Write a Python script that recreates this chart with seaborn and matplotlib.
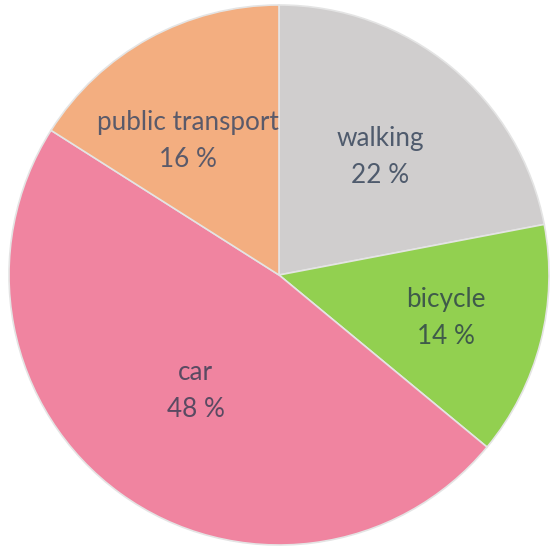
import numpy as np
import seaborn as sns
import matplotlib.pyplot as plt

# ── Data ───────────────────────────────────────────────────────────────────────
modes = ["walking", "bicycle", "car", "public transport"]
shares = [22, 14, 48, 16]
colors = ["#d0cece", "#92d050", "#f084a0", "#f3ae80"]
text_colors = ["#4f5b6d", "#3f5a4a", "#5a4a62", "#5a5a6a"]
label_radius = [0.575, 0.64, 0.53, 0.60]
label_turn = [-1.0, 0.0, 0.5, 5.4]     # small angle nudges (degrees)

# ── Plot ───────────────────────────────────────────────────────────────────────
sns.set_theme(style="white")
plt.rcParams["font.family"] = ["Lato", "DejaVu Sans"]

fig = plt.figure(figsize=(5.51, 5.48), dpi=100)
ax = fig.add_axes([0, 0, 1, 1])

wedges, _ = ax.pie(shares, colors=sns.color_palette(colors), startangle=90,
                   counterclock=False, radius=1.0,
                   wedgeprops=dict(edgecolor="#e4e4e4", linewidth=1.2))

for w, name, val, r, turn, tc in zip(wedges, modes, shares, label_radius,
                                     label_turn, text_colors):
    ang = np.deg2rad((w.theta1 + w.theta2) / 2 + turn)
    ax.text(r * np.cos(ang), r * np.sin(ang), f"{name}\n{val} %",
            ha="center", va="center", fontsize=18.8, color=tc,
            linespacing=1.6)

# pie centre at pixel (279, 275), radius 270 px
ax.set_xlim(-279 / 270, (551 - 279) / 270)
ax.set_ylim(-273 / 270, 275 / 270)
ax.set_aspect("auto")
ax.axis("off")

fig.savefig("out.png", dpi=100)
